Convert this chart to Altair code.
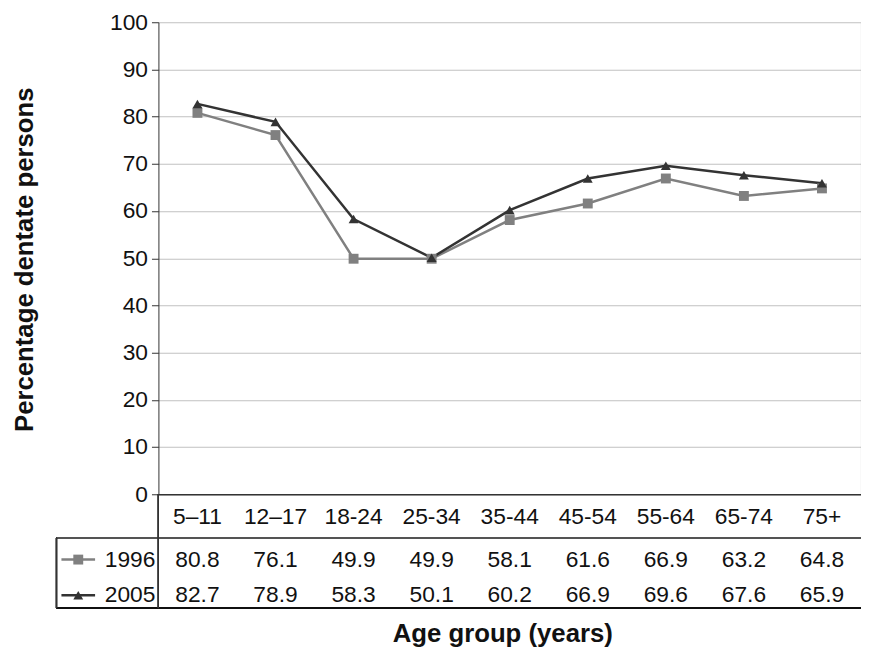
import pandas as pd
import altair as alt

# Aldersgrupper og verdier lest av tabellen
ages = ["5–11", "12–17", "18-24", "25-34", "35-44", "45-54", "55-64", "65-74", "75+"]
y1996 = [80.8, 76.1, 49.9, 49.9, 58.1, 61.6, 66.9, 63.2, 64.8]
y2005 = [82.7, 78.9, 58.3, 50.1, 60.2, 66.9, 69.6, 67.6, 65.9]
series = ["1996", "2005"]
colors = ["#808080", "#333333"]

df = pd.DataFrame({
    "age": ages * 2,
    "year": ["1996"] * len(ages) + ["2005"] * len(ages),
    "value": y1996 + y2005,
})
df["label"] = df["value"].map(lambda v: f"{v:.1f}")
cats = pd.DataFrame({"age": ages})
leg = pd.DataFrame({"year": series})

FONT = "Liberation Sans"
FS = 23
W, H = 710, 477

xs = alt.X("age:N", sort=ages, scale=alt.Scale(paddingInner=0, paddingOuter=0),
           axis=alt.Axis(labels=False, ticks=False, title=None, grid=False,
                         domainColor="#333333", domainWidth=1.5))
ys = alt.Y("value:Q", scale=alt.Scale(domain=[0, 100]),
           axis=alt.Axis(values=list(range(0, 101, 10)), title=None, tickSize=7,
                         tickColor="#333333", domainColor="#333333", labelFontSize=FS,
                         labelFont=FONT, labelColor="#111111", labelPadding=4,
                         gridColor="#c0c0c0"))
col = alt.Color("year:N", scale=alt.Scale(domain=series, range=colors), legend=None)
rowy = alt.Y("year:N", scale=alt.Scale(type="point", domain=series, range=[543, 579], padding=0),
             axis=None)

base = alt.Chart(df)
lines = base.mark_line(strokeWidth=2.5).encode(x=xs, y=ys, color=col)
sq = base.transform_filter("datum.year == '1996'").mark_point(
    shape="square", filled=True, size=100, opacity=1).encode(x=xs, y=ys, color=col)
tri = base.transform_filter("datum.year == '2005'").mark_point(
    shape="triangle-up", filled=True, size=100, opacity=1).encode(x=xs, y=ys, color=col)

cat_text = alt.Chart(cats).mark_text(fontSize=FS, font=FONT, color="#111111").encode(
    x=alt.X("age:N", sort=ages), y=alt.value(500), text="age:N")
val_text = base.mark_text(fontSize=FS, font=FONT, color="#111111").encode(
    x=alt.X("age:N", sort=ages), y=rowy, text="label:N")

def rule(x1, x2, y1, y2, c="#333333"):
    return alt.Chart(cats).mark_rule(color=c, strokeWidth=1.2).encode(
        x=alt.value(x1), x2=alt.value(x2), y=alt.value(y1), y2=alt.value(y2))

rules = [rule(-103, W, 521, 521, "#555555"), rule(-103, W, 592, 592, "#111111"),
         rule(-103, -103, 521, 592), rule(0, 0, 477, 592)]

leg_line = alt.Chart(leg).mark_rule(strokeWidth=2.5).encode(
    x=alt.value(-98), x2=alt.value(-64), y=rowy, color=col)
leg_sq = alt.Chart(leg).transform_filter("datum.year == '1996'").mark_point(
    shape="square", filled=True, size=100, opacity=1).encode(x=alt.value(-81), y=rowy, color=col)
leg_tri = alt.Chart(leg).transform_filter("datum.year == '2005'").mark_point(
    shape="triangle-up", filled=True, size=100, opacity=1).encode(x=alt.value(-81), y=rowy, color=col)
leg_text = alt.Chart(leg).mark_text(fontSize=FS, font=FONT, align="right", color="#111111").encode(
    x=alt.value(-3), y=rowy, text="year:N")

xtitle = alt.Chart(cats.head(1)).mark_text(fontSize=26, font=FONT, fontWeight="bold",
                                           color="#111111").encode(
    x=alt.value(348), y=alt.value(618), text=alt.value("Age group (years)"))
ytitle = alt.Chart(cats.head(1)).mark_text(fontSize=26, font=FONT, fontWeight="bold",
                                           angle=270, color="#111111").encode(
    x=alt.value(-135), y=alt.value(240), text=alt.value("Percentage dentate persons"))

chart = alt.layer(lines, sq, tri, cat_text, val_text, *rules, leg_line, leg_sq, leg_tri,
                  leg_text, xtitle, ytitle).resolve_scale(y="independent").properties(
    width=W, height=H,
    autosize=alt.AutoSizeParams(type="none"),
    padding={"left": 152, "top": 11, "right": 0, "bottom": 157},
).configure_view(stroke=None).configure_axis(labelFont=FONT, labelFontSize=FS)

chart.save("out.html", embed_options={"renderer": "svg", "actions": False})
